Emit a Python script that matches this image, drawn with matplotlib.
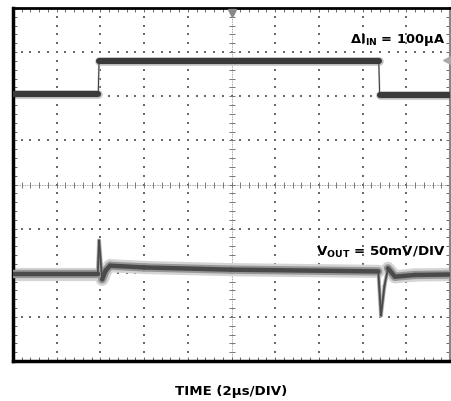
import numpy as np
import matplotlib
matplotlib.use("Agg")
import matplotlib.pyplot as plt
from matplotlib.collections import LineCollection

plt.rcParams['font.family'] = ['DejaVu Sans']
plt.rcParams['mathtext.fontset'] = 'dejavusans'

# ---- data (in scope divisions) ----
# Input current step trace (top)
iin_t = [0.0, 1.95, 1.97, 8.37, 8.39, 10.0]
iin_v = [2.04, 2.04, 2.81, 2.81, 2.03, 2.03]

# Output voltage trace (bottom)
vout_t = [0.0, 1.94, 1.97, 2.04, 2.12, 2.22, 3.0, 5.0, 8.36, 8.42, 8.50, 8.58, 8.74, 9.2, 10.0]
vout_v = [-2.02, -2.02, -1.27, -2.15, -1.95, -1.84, -1.88, -1.93, -1.97, -2.97, -2.30, -1.90, -2.09, -2.05, -2.04]

label_iin = r"ΔI$_{\mathbf{IN}}$ = 100µA"
label_vout = r"V$_{\mathbf{OUT}}$ = 50mV/DIV"
label_x = "TIME (2µs/DIV)"

W, H = 451, 402
fig = plt.figure(figsize=(W / 100, H / 100), dpi=100)
ax = fig.add_axes([13 / W, 40 / H, 437 / W, 353 / H])
ax.set_xlim(0, 10)
ax.set_ylim(-4, 4)

# grid dots
gx = np.arange(0, 10.001, 0.2)
gy = np.arange(-4, 4.001, 0.2)
for xv in range(1, 10):
    if xv == 5:
        continue
    ax.scatter(np.full(gy.size, xv), gy, s=0.8, marker='s', color='#6a6a6a', linewidths=0, zorder=1)
for yv in range(-3, 4):
    if yv == 0:
        continue
    ax.scatter(gx, np.full(gx.size, yv), s=0.8, marker='s', color='#6a6a6a', linewidths=0, zorder=1)

# center cross with ticks
ax.axhline(0, color='#888888', lw=0.6, ls=(0, (1, 1)), zorder=1)
ax.axvline(5, color='#888888', lw=0.6, ls=(0, (1, 1)), zorder=1)
ax.plot(gx, np.zeros_like(gx), ls='none', marker='|', ms=4, mew=0.7, color='#777777', zorder=1)
ax.plot(np.full(gy.size, 5.0), gy, ls='none', marker='_', ms=4, mew=0.7, color='#777777', zorder=1)


def trace(t, v, widths_flat, widths_steep, colors, z):
    t = np.asarray(t, float)
    v = np.asarray(v, float)
    segs = np.stack([np.column_stack([t[:-1], v[:-1]]), np.column_stack([t[1:], v[1:]])], axis=1)
    slope = np.abs(np.diff(v)) / np.maximum(np.diff(t), 1e-9)
    steep = slope > 3.0
    for wf, ws, c, k in zip(widths_flat, widths_steep, colors, range(len(colors))):
        lws = np.where(steep, ws, wf)
        lc = LineCollection(segs, linewidths=lws, colors=c, capstyle='round', joinstyle='round', zorder=z + k)
        ax.add_collection(lc)


trace(iin_t, iin_v, [6.2, 4.4], [1.4, 0.7], ['#c4c4c4', '#3a3a3a'], 2)
trace(vout_t, vout_v, [9.5, 6.0, 3.2], [3.0, 2.2, 1.3], ['#d4d4d4', '#969696', '#4a4a4a'], 2)

# scope markers
ax.plot([0.5], [0.985], transform=ax.transAxes, marker='v', ms=6, color='#888888', clip_on=False, zorder=6)
ax.plot([0.992], [0.854], transform=ax.transAxes, marker='<', ms=6, color='#aaaaaa', clip_on=False, zorder=6)

# ticks on border
ax.set_xticks(np.arange(0, 10.001, 1))
ax.set_yticks(np.arange(-4, 4.001, 1))
ax.set_xticks(gx, minor=True)
ax.set_yticks(gy, minor=True)
ax.tick_params(which='both', direction='in', length=3, width=0.7, color='#666666',
               top=True, right=True, labelbottom=False, labelleft=False)

for side, lw, col in [('left', 2.5, 'black'), ('bottom', 2.5, 'black'),
                      ('top', 2.0, 'black'), ('right', 1.5, '#888888')]:
    ax.spines[side].set_linewidth(lw)
    ax.spines[side].set_color(col)

# labels
ax.text(0.9886, 0.9025, label_iin, transform=ax.transAxes, ha='right', va='baseline',
        fontsize=9.4, fontweight='bold', color='black', zorder=8)
ax.text(0.9886, 0.301, label_vout, transform=ax.transAxes, ha='right', va='baseline',
        fontsize=9.6, fontweight='bold', color='black', zorder=8)
fig.text(231 / W, 1 - 392 / H, label_x, ha='center', va='center',
         fontsize=9.6, fontweight='bold', color='black')

fig.savefig('out.png', dpi=100, facecolor='white')
